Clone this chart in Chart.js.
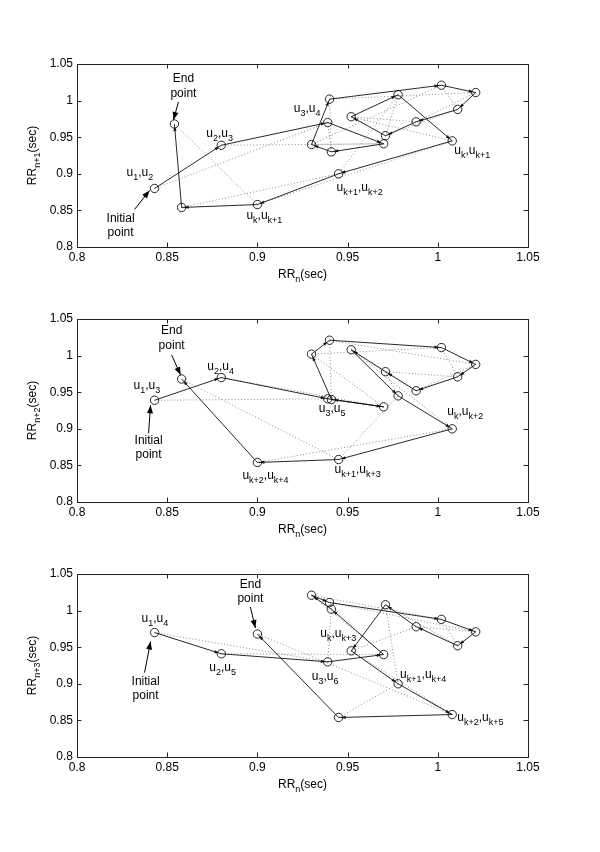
<!DOCTYPE html>
<html>
<head>
<meta charset="utf-8">
<script src="https://cdn.jsdelivr.net/npm/chart.js@4.4.0/dist/chart.umd.min.js"></script>
<style>
  html, body { margin: 0; padding: 0; background: #fff; }
  body { width: 600px; height: 852px; position: relative; overflow: hidden; }
  .panel { position: absolute; left: 0; width: 600px; height: 260px; }
</style>
</head>
<body>
<div class="panel" style="top:40px"><canvas id="lag1" width="600" height="260"></canvas></div>
<div class="panel" style="top:295px"><canvas id="lag2" width="600" height="260"></canvas></div>
<div class="panel" style="top:550px"><canvas id="lag3" width="600" height="260"></canvas></div>
<script>
// RR interval series (sec); panel k plots (RR_n, RR_n+lag)
const rrSeries = [0.843, 0.880, 0.939, 0.970, 0.941, 0.930, 0.940, 1.002, 1.021, 1.011,
                  0.988, 0.971, 0.952, 0.978, 1.008, 0.945, 0.900, 0.858, 0.854, 0.968];
const lags = [1, 2, 3];
const canvasIds = ["lag1", "lag2", "lag3"];
const yTitles = ["RR_{n+1}(sec)", "RR_{n+2}(sec)", "RR_{n+3}(sec)"];
const xTitle = "RR_{n}(sec)";
const tickValues = [0.8, 0.85, 0.9, 0.95, 1.0, 1.05];
const tickLabels = ["0.8", "0.85", "0.9", "0.95", "1", "1.05"];

// point labels per panel: [point index, text, dx, dy(baseline)]
const pointLabels = [
  [[0, "u_{1},u_{2}", -28, -12], [1, "u_{2},u_{3}", -15, -8], [2, "u_{3},u_{4}", -34, -11],
   [14, "u_{k},u_{k+1}", 2, 13], [15, "u_{k+1},u_{k+2}", -2, 17], [16, "u_{k},u_{k+1}", -11, 14]],
  [[0, "u_{1},u_{3}", -21, -11], [1, "u_{2},u_{4}", -14, -8], [2, "u_{3},u_{5}", -9, 13],
   [14, "u_{k},u_{k+2}", -5, -14], [15, "u_{k+1},u_{k+3}", -4, 13], [16, "u_{k+2},u_{k+4}", -15, 17]],
  [[0, "u_{1},u_{4}", -13, -11], [1, "u_{2},u_{5}", -12, 17], [2, "u_{3},u_{6}", -16, 18],
   [12, "u_{k},u_{k+3}", -31, -14], [13, "u_{k+1},u_{k+4}", 2, -6], [14, "u_{k+2},u_{k+5}", 5, 6]]
];

// "End point" / "Initial point" notes: [point index ("last" = end), text dx, line dys, arrow tail, arrow tip]
const notes = [
  [{ at: "last", dx: 9, dys: [-42, -27], tail: [4, -22], tip: [-1, -4] },
   { at: 0, dx: -34, dys: [34, 48], tail: [-20, 21], tip: [-5, 2], initial: true }],
  [{ at: "last", dx: -10, dys: [-45, -30], tail: [-10, -24], tip: [-1, -4] },
   { at: 0, dx: -6, dys: [44, 58], tail: [-6, 33], tip: [-4, 5], initial: true }],
  [{ at: "last", dx: -7, dys: [-46, -32], tail: [-7, -27], tip: [-2, -6] },
   { at: 0, dx: -9, dys: [52, 66], tail: [-10, 40], tip: [-4, 9], initial: true }]
];

const FONT_FAMILY = "'Liberation Sans', Arial, Helvetica, sans-serif";
const MAIN_FONT = "12px " + FONT_FAMILY;
const SUB_FONT = "9px " + FONT_FAMILY;
Chart.defaults.font.family = FONT_FAMILY;

function parseRich(str) {
  const parts = [];
  const re = /_\{([^}]*)\}/g;
  let last = 0, m;
  while ((m = re.exec(str))) {
    if (m.index > last) parts.push({ t: str.slice(last, m.index), sub: false });
    parts.push({ t: m[1], sub: true });
    last = re.lastIndex;
  }
  if (last < str.length) parts.push({ t: str.slice(last), sub: false });
  return parts;
}

function drawRich(ctx, str, x, y, align) {
  const parts = parseRich(str);
  let w = 0;
  parts.forEach(p => {
    ctx.font = p.sub ? SUB_FONT : MAIN_FONT;
    p.w = ctx.measureText(p.t).width;
    w += p.w;
  });
  let cx = align === "center" ? x - w / 2 : x;
  ctx.textAlign = "left";
  ctx.textBaseline = "alphabetic";
  parts.forEach(p => {
    ctx.font = p.sub ? SUB_FONT : MAIN_FONT;
    ctx.fillText(p.t, cx, p.sub ? y + 4 : y);
    cx += p.w;
  });
}

function arrowHead(ctx, fx, fy, tx, ty, len, half) {
  const a = Math.atan2(ty - fy, tx - fx);
  ctx.beginPath();
  ctx.moveTo(tx, ty);
  ctx.lineTo(tx - len * Math.cos(a) + half * Math.sin(a), ty - len * Math.sin(a) - half * Math.cos(a));
  ctx.lineTo(tx - len * Math.cos(a) - half * Math.sin(a), ty - len * Math.sin(a) + half * Math.cos(a));
  ctx.closePath();
  ctx.fill();
}

// box, inward ticks, segment arrows, labels and titles
const decorPlugin = {
  id: "decor",
  afterDatasetsDraw(chart) {
    const ctx = chart.ctx;
    const { left, right, top, bottom } = chart.chartArea;
    const xs = chart.scales.x, ys = chart.scales.y;
    const k = chart.options.plugins.decor.panel;
    const pts = chart.data.datasets[0].data;
    const px = pts.map(p => [xs.getPixelForValue(p.x), ys.getPixelForValue(p.y)]);

    ctx.save();
    // axes box
    ctx.strokeStyle = "#222";
    ctx.lineWidth = 1;
    ctx.strokeRect(Math.round(left) + 0.5, Math.round(top) + 0.5,
                   Math.round(right - left), Math.round(bottom - top));
    // inward ticks on all four sides
    const tl = 4.5;
    ctx.beginPath();
    tickValues.forEach(v => {
      const x = Math.round(xs.getPixelForValue(v)) + 0.5;
      ctx.moveTo(x, bottom); ctx.lineTo(x, bottom - tl);
      ctx.moveTo(x, top); ctx.lineTo(x, top + tl);
      const y = Math.round(ys.getPixelForValue(v)) + 0.5;
      ctx.moveTo(left, y); ctx.lineTo(left + tl, y);
      ctx.moveTo(right, y); ctx.lineTo(right - tl, y);
    });
    ctx.stroke();

    // small arrowheads on the trajectory segments
    ctx.fillStyle = "#111";
    for (let i = 0; i + 1 < px.length; i++) {
      const [x0, y0] = px[i], [x1, y1] = px[i + 1];
      const d = Math.hypot(x1 - x0, y1 - y0);
      if (d < 8) continue;
      const tx = x1 - (x1 - x0) / d * 2.5, ty = y1 - (y1 - y0) / d * 2.5;
      arrowHead(ctx, x0, y0, tx, ty, 4.5, 1.6);
    }

    // point labels
    ctx.fillStyle = "#000";
    pointLabels[k].forEach(([idx, txt, dx, dy]) => {
      drawRich(ctx, txt, px[idx][0] + dx, px[idx][1] + dy, "left");
    });

    // End / Initial point notes
    notes[k].forEach(n => {
      const idx = n.at === "last" ? px.length - 1 : n.at;
      const [bx, by] = px[idx];
      const lines = n.initial ? ["Initial", "point"] : ["End", "point"];
      lines.forEach((t, j) => drawRich(ctx, t, bx + n.dx, by + n.dys[j], "center"));
      const fx = bx + n.tail[0], fy = by + n.tail[1];
      const tx = bx + n.tip[0], ty = by + n.tip[1];
      ctx.strokeStyle = "#000";
      ctx.lineWidth = 1;
      ctx.beginPath(); ctx.moveTo(fx, fy); ctx.lineTo(tx, ty); ctx.stroke();
      arrowHead(ctx, fx, fy, tx, ty, 8, 3);
    });

    // axis titles
    drawRich(ctx, xTitle, (left + right) / 2, bottom + 31, "center");
    ctx.translate(35.5, (top + bottom) / 2);
    ctx.rotate(-Math.PI / 2);
    drawRich(ctx, yTitles[k], 0, 0, "center");
    ctx.restore();
  }
};

lags.forEach((lag, k) => {
  const xVals = rrSeries.slice(0, rrSeries.length - lag);
  const yVals = rrSeries.slice(lag);
  const pts = xVals.map((x, i) => ({ x: x, y: yVals[i] }));

  const datasets = [{
    data: pts,
    showLine: true,
    borderColor: "#111",
    borderWidth: 0.9,
    pointRadius: 4.2,
    pointBorderColor: "#111",
    pointBackgroundColor: "rgba(0,0,0,0)",
    pointBorderWidth: 0.9,
    order: 0
  }];
  // dotted sides closing each triangle of three successive points
  for (let i = 0; i + 2 < pts.length; i++) {
    datasets.push({
      data: [pts[i], pts[i + 2]],
      showLine: true,
      borderColor: "#8c8c8c",
      borderWidth: 1,
      borderDash: [1, 2.2],
      pointRadius: 0,
      order: 1
    });
  }

  const tickFont = { family: FONT_FAMILY, size: 12 };
  new Chart(document.getElementById(canvasIds[k]).getContext("2d"), {
    type: "scatter",
    data: { datasets },
    options: {
      responsive: false,
      animation: false,
      events: [],
      devicePixelRatio: 1,
      layout: { padding: { top: 24, right: 72, left: 0, bottom: 0 } },
      plugins: {
        legend: { display: false },
        tooltip: { enabled: false },
        decor: { panel: k }
      },
      scales: {
        x: {
          type: "linear", min: 0.8, max: 1.05,
          afterBuildTicks: s => { s.ticks = tickValues.map(v => ({ value: v })); },
          afterFit: s => { s.height = 53; },
          grid: { display: false, drawTicks: false },
          border: { display: false },
          ticks: { callback: (v, i) => tickLabels[i], padding: 3, color: "#000",
                   font: tickFont, maxRotation: 0, autoSkip: false }
        },
        y: {
          type: "linear", min: 0.8, max: 1.05,
          afterBuildTicks: s => { s.ticks = tickValues.map(v => ({ value: v })); },
          afterFit: s => { s.width = 77; },
          grid: { display: false, drawTicks: false },
          border: { display: false },
          ticks: { callback: (v, i) => tickLabels[i], padding: 4, color: "#000",
                   font: tickFont, autoSkip: false }
        }
      }
    },
    plugins: [decorPlugin]
  });
});
</script>
</body>
</html>
